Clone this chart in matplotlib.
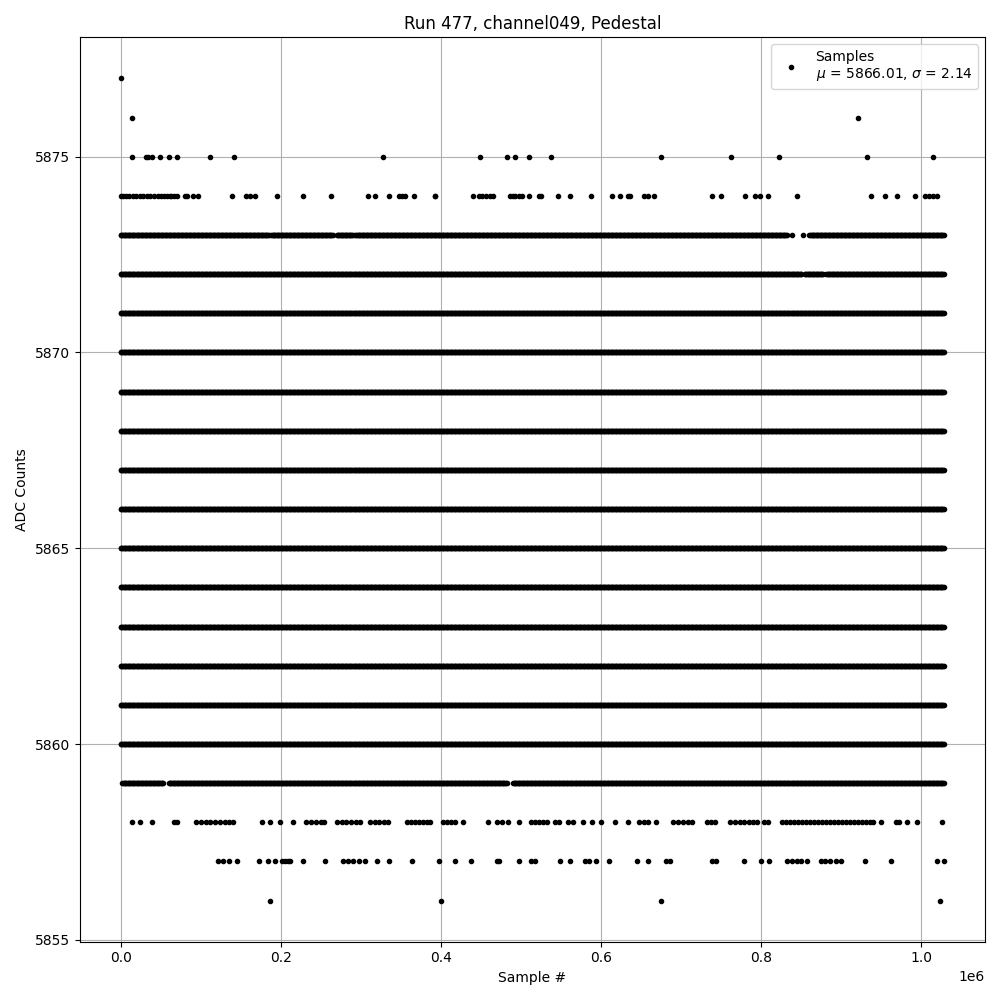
import numpy as np
from matplotlib import pyplot as plt

# ADC levels, sample numbers in thousands
dense_levels = [5861, 5862, 5863, 5864, 5865, 5866, 5867, 5868, 5869, 5870, 5871]
dense_range = (0, 1028)

# levels that are filled but have gaps: (level, [(start, end), ...])
level_5860_segs = [(0, 1028)]
level_5859_segs = [(2, 53), (60, 482), (490, 1028)]
level_5872_segs = [(0, 850), (854, 877), (881, 1028)]
level_5873_segs = [(0, 185), (188, 265), (270, 290), (293, 832), (838, 838), (852, 852), (860, 1028)]

# sparse levels, single samples (thousands)
x_5877 = [0]
x_5876 = [14, 921]
x_5875 = [14, 31, 34, 39, 49, 60, 70, 112, 142, 327, 449, 482, 492, 510, 538,
          675, 762, 822, 932, 1014]
x_5874 = [0, 3, 7, 11, 15, 19, 24, 28, 33, 37, 41, 46, 50, 54, 58, 61, 63, 66, 70,
          80, 83, 90, 97, 139, 156, 161, 168, 195, 228, 263, 309, 317, 335, 347, 351,
          355, 366, 392, 393, 440, 448, 451, 456, 461, 465, 486, 490, 493, 498, 501,
          510, 523, 525, 546, 561, 587, 614, 624, 634, 636, 653, 659, 666, 738, 750,
          780, 792, 799, 809, 844, 937, 955, 970, 992, 1005, 1010, 1015, 1020]
x_5858 = [14, 24, 39, 66, 70, 94, 100, 106, 112, 118, 124, 130, 135, 140, 176, 187,
          199, 215, 232, 238, 244, 250, 254, 270, 276, 282, 288, 294, 299, 311, 317,
          323, 329, 334, 357, 362, 367, 372, 377, 382, 386, 403, 408, 413, 418, 428,
          459, 470, 476, 484, 498, 513, 518, 522, 527, 532, 543, 547, 559, 565, 577,
          588, 600, 617, 634, 647, 653, 659, 669, 690, 696, 702, 708, 713, 732, 737,
          742, 761, 767, 773, 779, 785, 790, 795, 803, 809, 826, 831, 836, 841, 846,
          851, 856, 861, 866, 871, 876, 881, 886, 891, 896, 901, 906, 911, 916, 921,
          926, 931, 936, 940, 950, 968, 972, 982, 994, 1026]
x_5857 = [122, 128, 135, 145, 173, 184, 193, 201, 205, 209, 212, 228, 255, 278, 284,
          290, 298, 305, 320, 335, 364, 398, 418, 438, 470, 473, 498, 513, 518, 549,
          561, 580, 585, 594, 610, 645, 659, 681, 686, 738, 743, 778, 800, 810, 832,
          838, 844, 850, 857, 874, 880, 886, 893, 899, 930, 962, 1020, 1028]
x_5856 = [187, 400, 675, 1023]

mu, sigma = 5866.01, 2.14

xs, ys = [], []


def add_segments(level, segs):
    for a, b in segs:
        x = np.arange(a, b + 1, 1.0) * 1000
        xs.append(x)
        ys.append(np.full(len(x), level))


for lv in dense_levels:
    add_segments(lv, [dense_range])
add_segments(5860, level_5860_segs)
add_segments(5859, level_5859_segs)
add_segments(5872, level_5872_segs)
add_segments(5873, level_5873_segs)

for lv, pts in [(5877, x_5877), (5876, x_5876), (5875, x_5875), (5874, x_5874),
                (5858, x_5858), (5857, x_5857), (5856, x_5856)]:
    xs.append(np.array(pts, dtype=float) * 1000)
    ys.append(np.full(len(pts), lv))

x_all = np.concatenate(xs)
y_all = np.concatenate(ys)

fig = plt.figure(figsize=(10, 10), dpi=100)
plt.plot(x_all, y_all, 'k.', label="Samples\n$\\mu$ = %.2f, $\\sigma$ = %.2f" % (mu, sigma))
plt.title("Run 477, channel049, Pedestal")
plt.xlabel("Sample #")
plt.ylabel("ADC Counts")
plt.grid(True)
plt.legend(loc='upper right')
plt.tight_layout()
plt.savefig("out.png")
